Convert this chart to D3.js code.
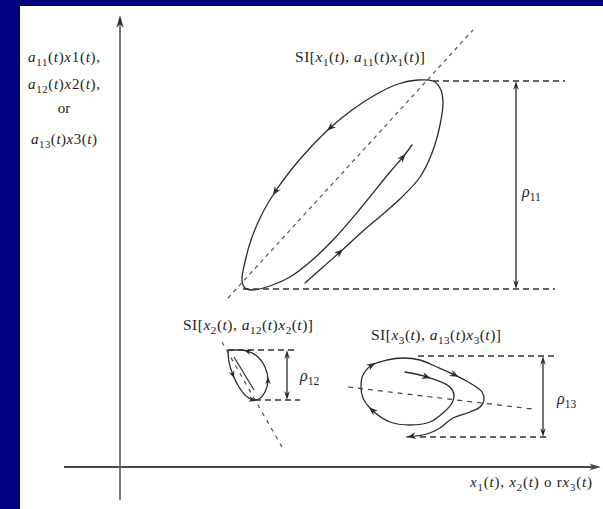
<!DOCTYPE html>
<html>
<head>
<meta charset="utf-8">
<script src="https://cdn.jsdelivr.net/npm/d3@7"></script>
<style>
  html, body { margin: 0; padding: 0; background: #000080; }
  svg { display: block; }
  text { white-space: pre; }
</style>
</head>
<body>
<svg id="chart" width="603" height="509"></svg>
<script>
// ---- Loop trajectories: [input, output] pairs, traced in the order of motion ----
const loop1 = [
  [185,184],[202,199],[220,215],[242,235],[263,253],[282,270],[300,290],[312,314],
  [320,342],[323,365],[320,379],[313,386],[298,387],[278,383],[255,372],[232,357],
  [210,339],[190,319],[171,297],[155,275],[141,251],[131,227],[125,205],[122,187],
  [125,179],[132,177],[150,181],[170,190],[190,205],[213,227],[240,258],[270,295],
  [283,310],[292,322]
];
const loop1Arrows = [2, 16, 19, 32];

const loop2 = [
  [108,117],[109,105],[113,92],[119,80],[126,71],[133,67],[139,68],[145,75],
  [148,87],[145,100],[138,110],[127,116],[117,117],[108,117]
];
const loop2Inner = [[114,110],[134,77]];
const loop2Arrows = [2, 5, 8, 11];

const loop3 = [
  [285,95],[307,90],[330,80],[334,72],[332,64],[323,54],[310,45],[290,42],
  [270,45],[252,57],[243,69],[241,80],[243,92],[252,102],[267,107],[283,109],
  [300,107],[317,100],[335,92],[350,84],[362,75],[364,67],[360,60],[350,55],
  [333,49],[320,39],[307,33],[287,30]
];
const loop3Arrows = [1, 9, 13, 18, 27];

// Symmetry axis of each loop (two end points)
const axis1 = [[108,169],[353,437]];
const axis2 = [[102,125],[162,20]];
const axis3 = [[228,80],[412,58]];

// Peak-to-peak spans of each loop
const spanNames = ["*ρ*_11", "*ρ*_12", "*ρ*_13"];
const spanHigh  = [386, 117, 111];
const spanLow   = [178, 67, 30];

// Axis labels and loop titles
const yLabelLines = ["*a*_11(*t*)*x*1(*t*),", "*a*_12(*t*)*x*2(*t*),", "or", "*a*_13(*t*)*x*3(*t*)"];
const xLabel = "*x*_1(*t*), *x*_2(*t*) o r*x*_3(*t*)";
const loopTitles = [
  "SI[*x*_1(*t*), *a*_11(*t*)*x*_1(*t*)]",
  "SI[*x*_2(*t*), *a*_12(*t*)*x*_2(*t*)]",
  "SI[*x*_3(*t*), *a*_13(*t*)*x*_3(*t*)]"
];

// ---- Layout ----
const W = 603, H = 509;
const svg = d3.select("#chart");
const FONT = "'Liberation Serif', 'Times New Roman', serif";
const INK = "#2b2b2b";

svg.append("rect").attr("x", 0).attr("y", 0).attr("width", W).attr("height", H).attr("fill", "#000080");
svg.append("rect").attr("x", 20).attr("y", 6).attr("width", W - 20).attr("height", H - 6).attr("fill", "#fff");

const x = d3.scaleLinear().domain([0, 480]).range([120, 600]);
const y = d3.scaleLinear().domain([0, 450]).range([467, 17]);

const g = svg.append("g");

// rich text: '*' toggles italic, '_' starts a numeric subscript
function rich(sel, spec, size) {
  const parts = [];
  let italic = false, sub = false, buf = "";
  const flush = () => { if (buf) parts.push({ t: buf, i: italic, s: sub }); buf = ""; };
  for (const c of spec) {
    if (c === "*") { flush(); italic = !italic; }
    else if (c === "_") { flush(); sub = true; }
    else {
      if (sub && !/[0-9]/.test(c)) { flush(); sub = false; }
      buf += c;
    }
  }
  flush();
  let down = false;
  const shift = size * 0.28;
  parts.forEach(p => {
    const ts = sel.append("tspan").text(p.t)
      .attr("font-style", p.i ? "italic" : "normal")
      .attr("font-size", p.s ? size * 0.72 : size);
    if (p.s && !down) { ts.attr("dy", shift); down = true; }
    else if (!p.s && down) { ts.attr("dy", -shift); down = false; }
  });
  return sel;
}

function label(spec, px, py, size, anchor, width) {
  const t = g.append("text").attr("x", px).attr("y", py)
    .attr("font-family", FONT).attr("font-size", size)
    .attr("fill", "#222").attr("text-anchor", anchor || "start");
  if (width) t.attr("textLength", width).attr("lengthAdjust", "spacing");
  rich(t, spec, size);
  return t;
}

// barbed arrowhead with its tip at (px,py) pointing along angle
function arrowHead(px, py, ang, len, hw, fill) {
  const path = `M0,0 L${-len},${-hw} L${-len * 0.68},0 L${-len},${hw} Z`;
  g.append("path").attr("d", path)
    .attr("transform", `translate(${px},${py}) rotate(${ang * 180 / Math.PI})`)
    .attr("fill", fill || INK).attr("stroke", "none");
}

// ---- Axes ----
const axisColor = "#4a4a4a";
g.append("line")
  .attr("x1", x(-56)).attr("x2", x(478)).attr("y1", y(0)).attr("y2", y(0))
  .attr("stroke", axisColor).attr("stroke-width", 1.8);
arrowHead(x(481), y(0), 0, 12, 3.6, axisColor);
g.append("line")
  .attr("x1", x(0)).attr("x2", x(0)).attr("y1", y(-33)).attr("y2", y(449))
  .attr("stroke", "#5a5a5a").attr("stroke-width", 1.6);
arrowHead(x(0), y(452), -Math.PI / 2, 13, 3.6, "#333");

// ---- Loop symmetry axes ----
[[axis1, "4,4", "#555"], [axis2, "4,5", "#555"], [axis3, "5,5", "#444"]].forEach(([a, dash, col]) => {
  g.append("line")
    .attr("x1", x(a[0][0])).attr("y1", y(a[0][1]))
    .attr("x2", x(a[1][0])).attr("y2", y(a[1][1]))
    .attr("stroke", col).attr("stroke-width", 1.2).attr("stroke-dasharray", dash);
});

// ---- Span guides: horizontal dashed lines + double-headed arrow ----
const guideStartHigh = [313, 108, 298];
const guideStartLow  = [123, 135, 300];
const guideEndHigh   = [445, 176, 437];
const guideEndLow    = [435, 180, 430];
const arrowX         = [396, 167, 423];
const nameAt         = [[402, 275], [180, 91], [437, 68]];

spanHigh.forEach((hi, k) => {
  const lo = spanLow[k];
  g.append("line").attr("x1", x(guideStartHigh[k])).attr("x2", x(guideEndHigh[k]))
    .attr("y1", y(hi)).attr("y2", y(hi))
    .attr("stroke", "#333").attr("stroke-width", 1.3).attr("stroke-dasharray", "6,4");
  g.append("line").attr("x1", x(guideStartLow[k])).attr("x2", x(guideEndLow[k]))
    .attr("y1", y(lo)).attr("y2", y(lo))
    .attr("stroke", "#333").attr("stroke-width", 1.3).attr("stroke-dasharray", "6,4");
  g.append("line").attr("x1", x(arrowX[k])).attr("x2", x(arrowX[k]))
    .attr("y1", y(hi) + 3).attr("y2", y(lo) - 3)
    .attr("stroke", INK).attr("stroke-width", 1.3);
  arrowHead(x(arrowX[k]), y(hi), -Math.PI / 2, 9, 2.8);
  arrowHead(x(arrowX[k]), y(lo), Math.PI / 2, 9, 2.8);
  label(spanNames[k], x(nameAt[k][0]), y(nameAt[k][1]) + 5, 16, "start");
});

// ---- Loops ----
const line = d3.line().x(d => x(d[0])).y(d => y(d[1])).curve(d3.curveCatmullRom.alpha(0.5));

function drawLoop(pts, arrows, size) {
  g.append("path").attr("d", line(pts))
    .attr("fill", "none").attr("stroke", INK).attr("stroke-width", 1.3)
    .attr("stroke-linejoin", "round").attr("stroke-linecap", "round");
  arrows.forEach(i => {
    const a = pts[Math.max(0, i - 1)], b = pts[Math.min(pts.length - 1, i + 1)];
    const ang = Math.atan2(y(b[1]) - y(a[1]), x(b[0]) - x(a[0]));
    const p = pts[i];
    const off = i === pts.length - 1 ? 0 : size * 0.45;
    arrowHead(x(p[0]) + off * Math.cos(ang), y(p[1]) + off * Math.sin(ang), ang, size, size * 0.38);
  });
}
drawLoop(loop1, loop1Arrows, 9);
drawLoop(loop2, loop2Arrows, 7.5);
g.append("path").attr("d", d3.line().x(d => x(d[0])).y(d => y(d[1]))(loop2Inner))
  .attr("fill", "none").attr("stroke", INK).attr("stroke-width", 1.2);
drawLoop(loop3, loop3Arrows, 9);

// ---- Titles ----
const titleAt = [[240, 405], [128, 137], [316, 127]];
loopTitles.forEach((t, k) => label(t, x(titleAt[k][0]), y(titleAt[k][1]), 15.5, "middle", 130));

// ---- Axis labels ----
const yLabelBase = [62, 89, 113, 144];
const yLabelWidth = [72, 72, 0, 66];
yLabelLines.forEach((t, k) => label(t, 64, yLabelBase[k], 15, "middle", yLabelWidth[k]));
label(xLabel, 592, 487, 15, "end", 122);
</script>
</body>
</html>
